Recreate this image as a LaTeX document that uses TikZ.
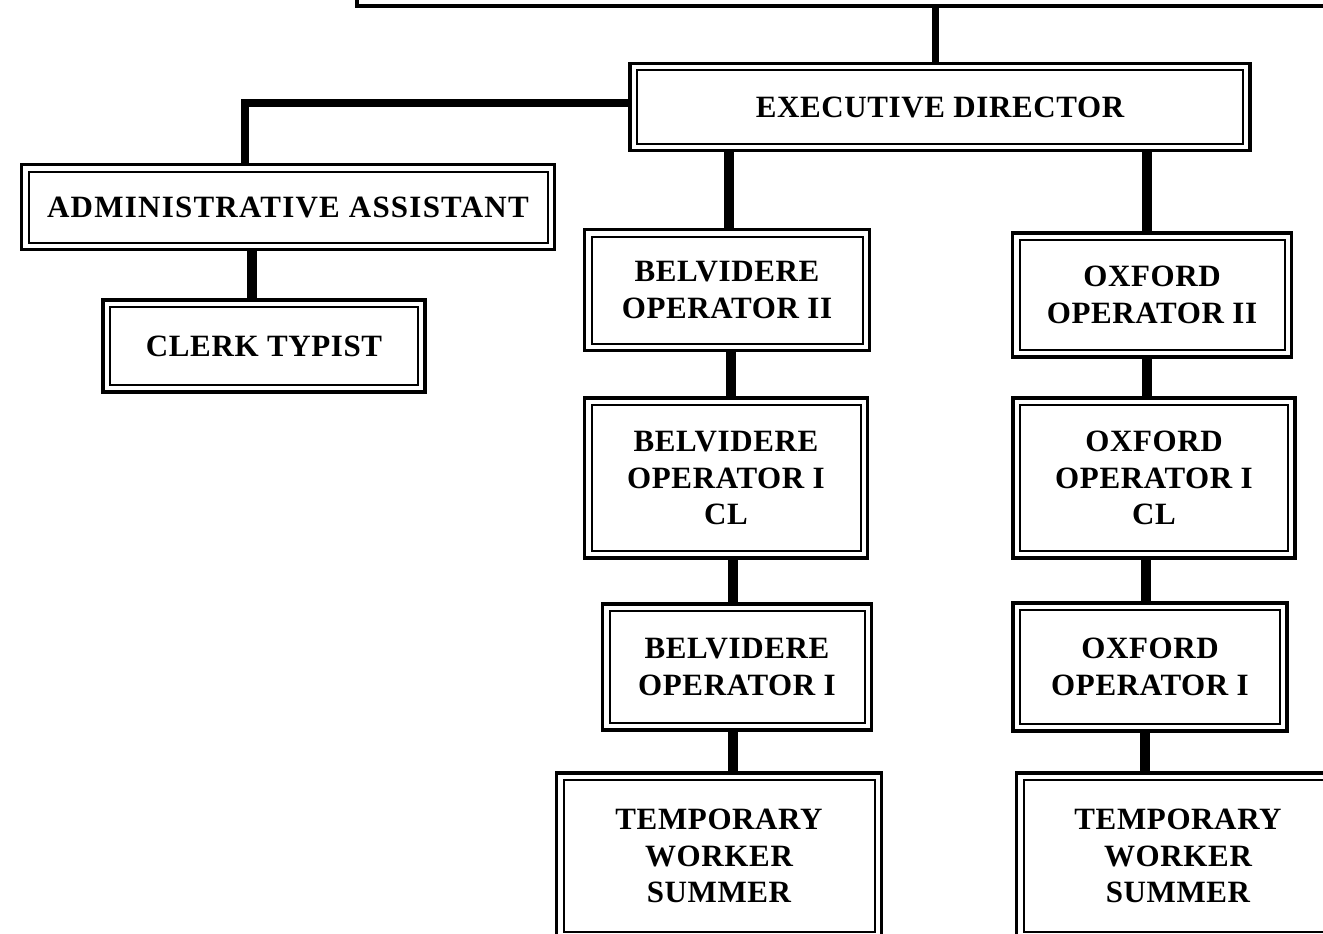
\documentclass[tikz,border=0pt]{standalone}
\usepackage{fontspec}
\setmainfont{Liberation Serif}[LetterSpace=2]
\begin{document}
\begin{tikzpicture}[x=1pt,y=-1pt,
  box/.style={draw, line width=3.5pt, inner sep=0pt, outer sep=0pt, align=center,
    font=\bfseries\fontsize{31}{36.5}\selectfont, fill=white},
  frame/.style={line width=2pt},
  conn/.style={line width=10pt}]
\useasboundingbox (0,0) rectangle (1323,934);
\clip (0,0) rectangle (1323,934);
% nodes
\node[box, minimum width=990pt, minimum height=80pt] (top) at (852,-34) {};
\node[box, minimum width=620pt, minimum height=87pt] (ed) at (940,107) {EXECUTIVE DIRECTOR};
\node[box, minimum width=533pt, minimum height=85pt] (aa) at (288,207) {\addfontfeature{LetterSpace=4}ADMINISTRATIVE ASSISTANT};
\node[box, minimum width=322pt, minimum height=92pt] (ct) at (264,346) {CLERK TYPIST};
\node[box, minimum width=285pt, minimum height=121pt] (bo2) at (727,290) {BELVIDERE\\OPERATOR II};
\node[box, minimum width=283pt, minimum height=160pt] (bo1cl) at (726,478) {BELVIDERE\\OPERATOR I\\CL};
\node[box, minimum width=269pt, minimum height=126pt] (bo1) at (737,667) {BELVIDERE\\OPERATOR I};
\node[box, minimum width=325pt, minimum height=166pt] (bt) at (719,856) {TEMPORARY\\WORKER\\SUMMER};
\node[box, minimum width=279pt, minimum height=124pt] (oo2) at (1152,295) {OXFORD\\OPERATOR II};
\node[box, minimum width=282pt, minimum height=160pt] (oo1cl) at (1154,478) {OXFORD\\OPERATOR I\\CL};
\node[box, minimum width=274pt, minimum height=128pt] (oo1) at (1150,667) {OXFORD\\OPERATOR I};
\node[box, minimum width=323pt, minimum height=166pt] (ot) at (1178,856) {TEMPORARY\\WORKER\\SUMMER};
% inner frames
\foreach \n in {top,ed,aa,ct,bo2,bo1cl,bo1,bt,oo2,oo1cl,oo1,ot}
  \draw[frame] ([shift={(7,7)}]\n.north west) rectangle ([shift={(-7,-7)}]\n.south east);
% connectors
\draw[conn, line width=7pt] (top.south -| 935,0) -- (ed.north -| 935,0);
\draw[conn, line width=8pt] (ed.west |- 0,103) -| (aa.north -| 245,0);
\draw[conn] (aa.south -| 252,0) -- (ct.north -| 252,0);
\draw[conn] (ed.south -| 729,0) -- (bo2.north -| 729,0);
\draw[conn] (bo2.south -| 731,0) -- (bo1cl.north -| 731,0);
\draw[conn] (bo1cl.south -| 733,0) -- (bo1.north -| 733,0);
\draw[conn] (bo1.south -| 733,0) -- (bt.north -| 733,0);
\draw[conn] (ed.south -| 1147,0) -- (oo2.north -| 1147,0);
\draw[conn] (oo2.south -| 1147,0) -- (oo1cl.north -| 1147,0);
\draw[conn] (oo1cl.south -| 1146,0) -- (oo1.north -| 1146,0);
\draw[conn] (oo1.south -| 1145,0) -- (ot.north -| 1145,0);
\end{tikzpicture}
\end{document}
